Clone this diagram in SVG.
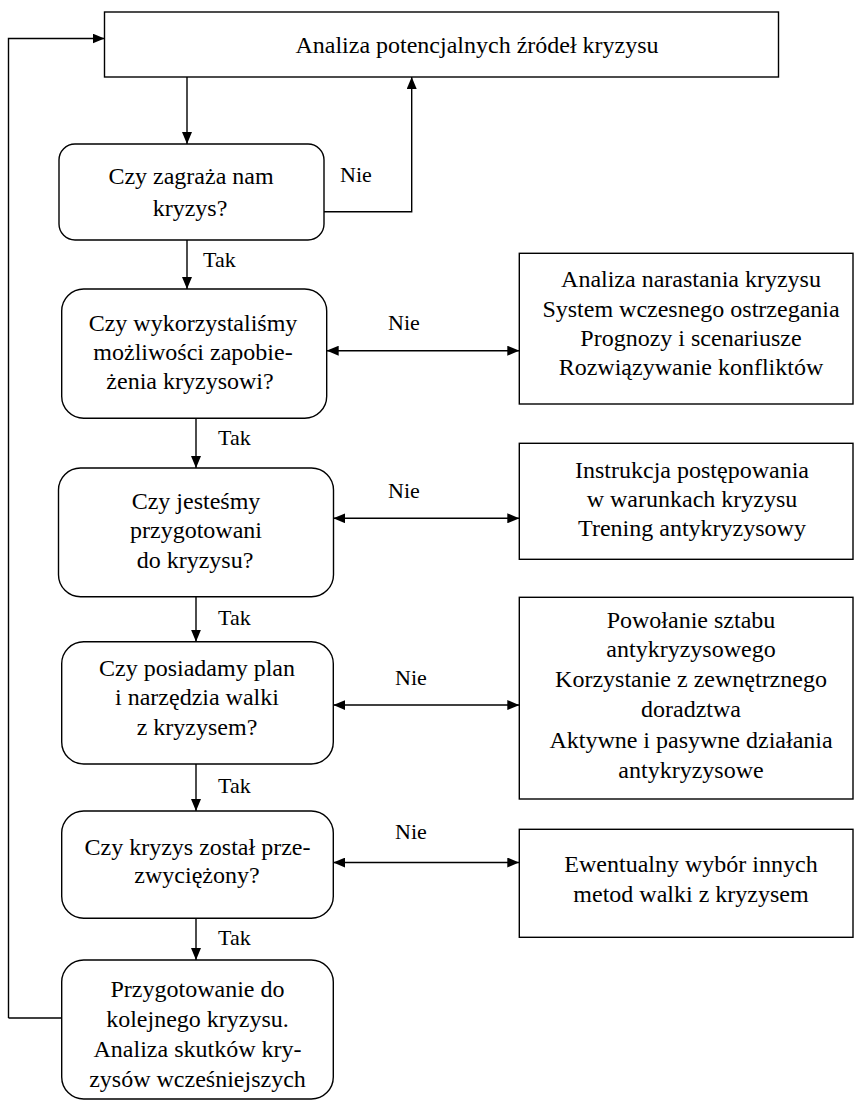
<svg xmlns="http://www.w3.org/2000/svg" width="854" height="1101" viewBox="0 0 854 1101">
<style>
.box{fill:#fff;stroke:#000;stroke-width:1.4}
.t{font-family:"Liberation Serif",Tinos,"Times New Roman",Times,"DejaVu Serif",serif;font-size:24px;fill:#000;text-anchor:middle}
.l{font-family:"Liberation Serif",Tinos,"Times New Roman",Times,"DejaVu Serif",serif;font-size:22px;fill:#000}
.c{fill:none;stroke:#000;stroke-width:1.4}
</style>
<defs>
<marker id="ah" viewBox="0 0 12 10" refX="12" refY="5" markerWidth="12" markerHeight="10" orient="auto-start-reverse" markerUnits="userSpaceOnUse"><path d="M0,0 L12,5 L0,10 z" fill="#000"/></marker>
</defs>
<rect width="854" height="1101" fill="#fff"/>
<g id="connectors">
<path class="c" d="M8.5,1018 L8.5,38.5 L104.5,38.5" marker-end="url(#ah)"/>
<path class="c" d="M61.7,1018 L8.5,1018"/>
<path class="c" d="M187,77 L187,144" marker-end="url(#ah)"/>
<path class="c" d="M324,211.7 L411.7,211.7 L411.7,77" marker-end="url(#ah)"/>
<path class="c" d="M187,240 L187,289" marker-end="url(#ah)"/>
<path class="c" d="M196,418.3 L196,468" marker-end="url(#ah)"/>
<path class="c" d="M196,596.7 L196,641.7" marker-end="url(#ah)"/>
<path class="c" d="M196,764 L196,811" marker-end="url(#ah)"/>
<path class="c" d="M196,918.3 L196,960" marker-end="url(#ah)"/>
<path class="c" d="M326.7,350.7 L519.3,350.7" marker-start="url(#ah)" marker-end="url(#ah)"/>
<path class="c" d="M333.3,518.3 L519.3,518.3" marker-start="url(#ah)" marker-end="url(#ah)"/>
<path class="c" d="M333.3,705 L519.3,705" marker-start="url(#ah)" marker-end="url(#ah)"/>
<path class="c" d="M333.3,862.5 L519.3,862.5" marker-start="url(#ah)" marker-end="url(#ah)"/>
<text class="l" x="356" y="182" text-anchor="middle">Nie</text>
<text class="l" x="404" y="330" text-anchor="middle">Nie</text>
<text class="l" x="404" y="498" text-anchor="middle">Nie</text>
<text class="l" x="411" y="685" text-anchor="middle">Nie</text>
<text class="l" x="411" y="839" text-anchor="middle">Nie</text>
<text class="l" x="203" y="267">Tak</text>
<text class="l" x="218" y="445">Tak</text>
<text class="l" x="218" y="625">Tak</text>
<text class="l" x="218" y="793">Tak</text>
<text class="l" x="218" y="945">Tak</text>
</g>
<g id="top">
<rect class="box" x="104.5" y="12" width="674" height="65"/>
<text class="t" x="477" y="53">Analiza potencjalnych źródeł kryzysu</text>
</g>
<g id="q1">
<rect class="box" x="59" y="144" width="265" height="96" rx="16"/>
<text class="t" x="191" y="184">Czy zagraża nam</text>
<text class="t" x="190" y="216">kryzys?</text>
</g>
<g id="q2">
<rect class="box" x="61.7" y="289" width="265" height="129.3" rx="22"/>
<text class="t" x="193" y="331">Czy wykorzystaliśmy</text>
<text class="t" x="193" y="360">możliwości zapobie-</text>
<text class="t" x="190" y="389">żenia kryzysowi?</text>
</g>
<g id="q3">
<rect class="box" x="58.5" y="468" width="275" height="128.7" rx="22"/>
<text class="t" x="196" y="509">Czy jesteśmy</text>
<text class="t" x="196" y="538">przygotowani</text>
<text class="t" x="195" y="568">do kryzysu?</text>
</g>
<g id="q4">
<rect class="box" x="61.7" y="641.7" width="271.6" height="122.3" rx="22"/>
<text class="t" x="197" y="676">Czy posiadamy plan</text>
<text class="t" x="197" y="705">i narzędzia walki</text>
<text class="t" x="197" y="735">z kryzysem?</text>
</g>
<g id="q5">
<rect class="box" x="61.7" y="811" width="271.6" height="107.3" rx="22"/>
<text class="t" x="197.5" y="855">Czy kryzys został prze-</text>
<text class="t" x="197" y="883">zwyciężony?</text>
</g>
<g id="end">
<rect class="box" x="61.7" y="960" width="271.6" height="139" rx="22"/>
<text class="t" x="197.5" y="997">Przygotowanie do</text>
<text class="t" x="197.5" y="1027">kolejnego kryzysu.</text>
<text class="t" x="197.5" y="1057">Analiza skutków kry-</text>
<text class="t" x="197.5" y="1087">zysów wcześniejszych</text>
</g>
<g id="a1">
<rect class="box" x="519.3" y="253.3" width="333.7" height="150.7"/>
<text class="t" x="691" y="287">Analiza narastania kryzysu</text>
<text class="t" x="691" y="317">System wczesnego ostrzegania</text>
<text class="t" x="691" y="346">Prognozy i scenariusze</text>
<text class="t" x="691" y="375">Rozwiązywanie konfliktów</text>
</g>
<g id="a2">
<rect class="box" x="519.3" y="443.3" width="333.7" height="116"/>
<text class="t" x="692" y="478">Instrukcja postępowania</text>
<text class="t" x="692" y="507">w warunkach kryzysu</text>
<text class="t" x="692" y="536">Trening antykryzysowy</text>
</g>
<g id="a3">
<rect class="box" x="519.3" y="597.3" width="333.7" height="201.7"/>
<text class="t" x="691" y="628">Powołanie sztabu</text>
<text class="t" x="691" y="657">antykryzysowego</text>
<text class="t" x="691" y="687">Korzystanie z zewnętrznego</text>
<text class="t" x="691" y="717">doradztwa</text>
<text class="t" x="691" y="748">Aktywne i pasywne działania</text>
<text class="t" x="691" y="778">antykryzysowe</text>
</g>
<g id="a4">
<rect class="box" x="519.3" y="829.3" width="333.7" height="108"/>
<text class="t" x="691" y="872">Ewentualny wybór innych</text>
<text class="t" x="691" y="902">metod walki z kryzysem</text>
</g>
</svg>
